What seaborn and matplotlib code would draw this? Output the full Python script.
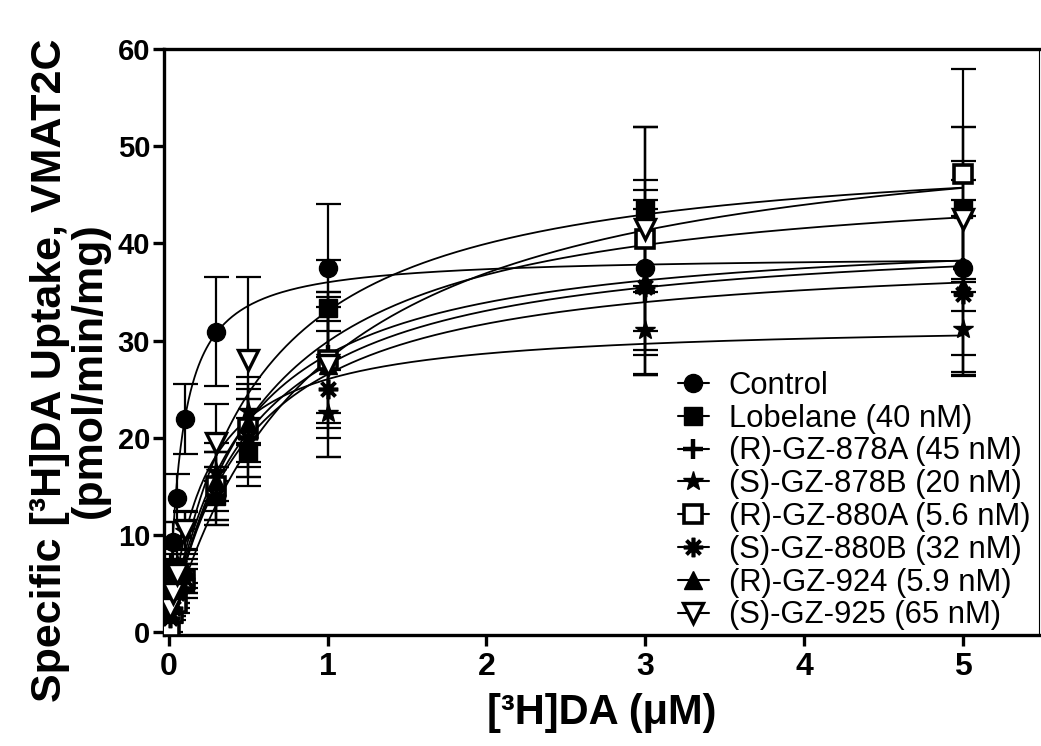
import numpy as np
import pandas as pd
import matplotlib
matplotlib.use("Agg")
import matplotlib.pyplot as plt
import seaborn as sns

# ---------------- data ----------------
conc = [0.01, 0.03, 0.05, 0.1, 0.3, 0.5, 1, 3, 5]

series_names = ["Control", "Lobelane (40 nM)", "(R)-GZ-878A (45 nM)", "(S)-GZ-878B (20 nM)",
                "(R)-GZ-880A (5.6 nM)", "(S)-GZ-880B (32 nM)", "(R)-GZ-924 (5.9 nM)",
                "(S)-GZ-925 (65 nM)"]

control_mean = [6.5, 9.3, 13.8, 21.9, 30.9, np.nan, 37.5, 37.5, 37.5]
control_sem = [1.5, 2.0, 2.5, 3.6, 5.6, np.nan, 6.5, 9.0, 11.0]
lobelane_mean = [1.5, 2.5, 3.5, 5.0, 14.0, 18.5, 33.3, 43.5, 43.5]
lobelane_sem = [0.6, 0.8, 1.0, 1.5, 3.0, 3.5, 5.0, 8.5, 8.5]
r878a_mean = [2.0, 3.0, 4.0, 6.0, 15.0, 20.0, 28.5, 35.0, 37.5]
r878a_sem = [0.6, 0.8, 1.0, 1.5, 3.5, 4.0, 6.0, 8.5, 9.0]
s878b_mean = [3.5, 5.0, 7.0, 10.4, 16.5, 22.8, 22.5, 31.1, 31.2]
s878b_sem = [0.8, 1.0, 1.5, 2.0, 3.0, 3.5, 4.5, 4.5, 4.8]
r880a_mean = [0.5, 2.0, 3.0, 5.5, 15.0, 21.0, 28.0, 40.5, 47.1]
r880a_sem = [0.5, 0.8, 1.0, 1.5, 3.5, 4.0, 7.0, 11.5, 10.8]
s880b_mean = [1.5, 2.5, 4.0, 5.5, 14.0, 20.0, 25.0, 35.5, 34.8]
s880b_sem = [0.5, 0.8, 1.0, 1.5, 3.0, 4.0, 7.0, 9.0, 8.0]
r924_mean = [2.0, 3.0, 4.5, 6.5, 15.5, 21.5, 27.5, 36.0, 35.5]
r924_sem = [0.6, 0.8, 1.0, 1.5, 3.0, 4.0, 6.0, 9.5, 9.0]
s925_mean = [2.5, 4.0, 6.0, 10.5, 19.5, 28.0, 27.5, 41.5, 42.5]
s925_sem = [0.8, 1.0, 1.5, 2.0, 4.0, 8.5, 7.5, 10.5, 9.5]

# Michaelis-Menten fit parameters (Vmax, Km)
fit_vmax = [38.8, 50.6, 41.8, 31.9, 54.3, 39.5, 41.5, 47.8]
fit_km = [0.078, 0.532, 0.465, 0.226, 0.94, 0.49, 0.51, 0.60]

means = [control_mean, lobelane_mean, r878a_mean, s878b_mean, r880a_mean,
         s880b_mean, r924_mean, s925_mean]
sems = [control_sem, lobelane_sem, r878a_sem, s878b_sem, r880a_sem,
        s880b_sem, r924_sem, s925_sem]

# ---------------- style ----------------
sns.set_theme(style="ticks")
plt.rcParams['font.family'] = ['Liberation Sans', 'DejaVu Sans']
plt.rcParams['text.color'] = 'black'
plt.rcParams['axes.labelcolor'] = 'black'
plt.rcParams['xtick.color'] = 'black'
plt.rcParams['ytick.color'] = 'black'

markers = ['o', 's', 'P', '*', 's', (8, 2, 0), '^', 'v']
marker_sizes = [13, 13, 14, 15, 13, 14, 13, 14]
faces = ['black', 'black', 'black', 'black', 'white', 'black', 'black', 'white']
edge_w = [1, 1, 1, 1, 2.6, 2.6, 1, 2.4]

fig = plt.figure(figsize=(10.41, 7.46), dpi=100)
ax = fig.add_axes([0.1575, 0.1488, 0.8405, 0.7855])

# fitted curves via seaborn
xs = np.linspace(0, 5, 400)
fit_rows = []
for name, vm, km in zip(series_names, fit_vmax, fit_km):
    for xv in xs:
        fit_rows.append((name, xv, vm * xv / (km + xv)))
fit_df = pd.DataFrame(fit_rows, columns=["series", "x", "y"])
sns.lineplot(data=fit_df, x="x", y="y", hue="series", palette=["black"] * 8,
             linewidth=1.3, legend=False, ax=ax, zorder=2)

# data points with error bars
handles = []
for i, name in enumerate(series_names):
    m = np.array(means[i], dtype=float)
    s = np.array(sems[i], dtype=float)
    ax.errorbar(conc, m, yerr=s, fmt='none', ecolor='black', elinewidth=1.6,
                capsize=9, capthick=1.6, zorder=3)
    mk = markers[i]
    ms = marker_sizes[i]
    if mk == 'P':
        ax.plot(conc, m, linestyle='none', marker='+', markersize=ms,
                markeredgewidth=3.2, color='black', zorder=4)
        h, = ax.plot([], [], marker='+', markersize=ms, markeredgewidth=3.2,
                     color='black', linewidth=1.5)
    else:
        ax.plot(conc, m, linestyle='none', marker=mk, markersize=ms,
                markerfacecolor=faces[i], markeredgecolor='black',
                markeredgewidth=edge_w[i], zorder=4)
        h, = ax.plot([], [], marker=mk, markersize=ms, markerfacecolor=faces[i],
                     markeredgecolor='black', markeredgewidth=edge_w[i],
                     color='black', linewidth=1.5)
    handles.append(h)

ax.set_xlim(-0.03, 5.48)
ax.set_ylim(-0.3, 60)
ax.set_xticks([0, 1, 2, 3, 4, 5])
ax.set_yticks([0, 10, 20, 30, 40, 50, 60])
ax.set_xticklabels(['0', '1', '2', '3', '4', '5'], fontsize=23, fontweight='bold')
ax.set_yticklabels(['0', '10', '20', '30', '40', '50', '60'], fontsize=21, fontweight='bold')

for side in ['left', 'bottom', 'top']:
    ax.spines[side].set_linewidth(2.4)
    ax.spines[side].set_color('black')
ax.spines['right'].set_linewidth(0.8)
ax.spines['right'].set_color('black')
ax.tick_params(axis='both', direction='out', length=8, width=2.4, colors='black', pad=2)
ax.tick_params(axis='x', pad=4)
ax.tick_params(top=False, right=False)

ax.set_xlabel('[³H]DA (μM)', fontsize=30, fontweight='bold', labelpad=8)
ax.set_ylabel('Specific [³H]DA Uptake, VMAT2C\n(pmol/min/mg)', fontsize=31,
              fontweight='bold', linespacing=0.98)
ax.yaxis.set_label_coords(-0.062, 0.452)

leg = ax.legend(handles, series_names, loc='lower right', bbox_to_anchor=(1.006, -0.016),
                frameon=False, fontsize=22.3, handlelength=1.0, handletextpad=0.65,
                labelspacing=0.09, borderaxespad=0.05)

fig.savefig('out.png', dpi=100)
